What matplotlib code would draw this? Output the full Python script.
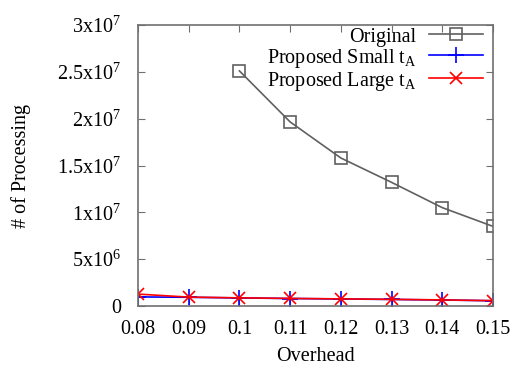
import numpy as np
import matplotlib.pyplot as plt

plt.rcParams['font.family'] = 'Liberation Serif'
plt.rcParams['mathtext.fontset'] = 'custom'
plt.rcParams['mathtext.rm'] = 'Liberation Serif'
plt.rcParams['mathtext.it'] = 'Liberation Serif'
plt.rcParams['font.size'] = 14.5

# Data
overhead = [0.08, 0.09, 0.10, 0.11, 0.12, 0.13, 0.14, 0.15]
orig_x = [0.10, 0.11, 0.12, 0.13, 0.14, 0.15]
original = [2.51e7, 1.965e7, 1.58e7, 1.32e7, 1.05e7, 0.85e7]
small_ta = [0.97e6, 0.93e6, 0.86e6, 0.80e6, 0.75e6, 0.70e6, 0.64e6, 0.56e6]
large_ta = [1.27e6, 0.95e6, 0.87e6, 0.81e6, 0.76e6, 0.71e6, 0.65e6, 0.57e6]

xticks = [0.08, 0.09, 0.10, 0.11, 0.12, 0.13, 0.14, 0.15]
xticklabels = ['0.08', '0.09', '0.1', '0.11', '0.12', '0.13', '0.14', '0.15']
yticks = [0, 5e6, 1e7, 1.5e7, 2e7, 2.5e7, 3e7]
yticklabels = ['0', r'5x10$^6$', r'1x10$^7$', r'1.5x10$^7$', r'2x10$^7$', r'2.5x10$^7$', r'3x10$^7$']

fig = plt.figure(figsize=(5.3, 3.72), dpi=100)
ax = fig.add_axes([138/530, 1 - 306/372, (493 - 138)/530, (306 - 25)/372])

ax.plot(orig_x, original, color='#606060', lw=1.2, marker='s', ms=9,
        mfc='none', mec='#606060', mew=1.2, label='Original')
ax.plot(overhead, small_ta, color='#0000ff', lw=1.2, marker='+', ms=11,
        mew=1.2, label=r'Proposed Small t$_{\rm A}$')
ax.plot(overhead, large_ta, color='#ff0000', lw=1.2, marker='x', ms=9,
        mew=1.2, label=r'Proposed Large t$_{\rm A}$')

ax.set_xlim(0.08, 0.15)
ax.set_ylim(0, 3e7)
ax.set_xticks(xticks)
ax.set_xticklabels(xticklabels)
ax.set_yticks(yticks)
ax.set_yticklabels(yticklabels)
ax.tick_params(direction='in', top=True, right=True, length=5, width=0.8,
               color='#707070')
ax.tick_params(axis='x', pad=10)
ax.tick_params(axis='y', pad=12)
for s in ax.spines.values():
    s.set_color('#707070')
    s.set_linewidth(1.2)

ax.set_xlabel('Overhead', va='center')
ax.set_ylabel('# of Processing', va='center')
ax.xaxis.set_label_coords(0.5, -0.18)
ax.yaxis.set_label_coords(-0.33, 0.5)

ax.legend(loc='upper right', frameon=False, markerfirst=False, handlelength=2.7,
          borderaxespad=0.0, labelspacing=0.0, handletextpad=0.6,
          bbox_to_anchor=(0.995, 1.02))

fig.savefig('out.png', dpi=100)
